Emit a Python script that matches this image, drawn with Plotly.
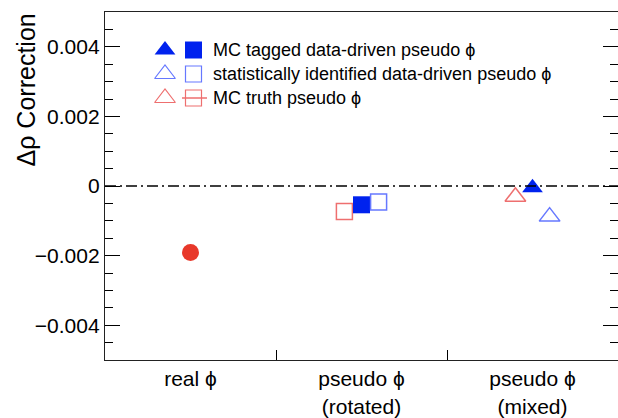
import plotly.graph_objects as go

# ---------------- data ----------------
categories = ["real ϕ", "pseudo ϕ<br>(rotated)", "pseudo ϕ<br>(mixed)"]
cat_pos = [0.5, 1.5, 2.5]

real_phi = [-0.00191]                    # red filled circle, real phi
mc_tagged_square = [-0.00054]            # rotated
stat_square = [-0.00046]                 # rotated
truth_square = [-0.00073]                # rotated
mc_tagged_tri = [-0.00005]               # mixed
stat_tri = [-0.00088]                    # mixed
truth_tri = [-0.00031]                   # mixed

legend_labels = ["MC tagged data-driven pseudo ϕ",
                 "statistically identified data-driven pseudo ϕ",
                 "MC truth pseudo ϕ"]

y_ticks = [-0.004, -0.002, 0, 0.002, 0.004]
y_ticktext = ["−0.004", "−0.002", "0", "0.002", "0.004"]

# ---------------- style ----------------
RED_F = "#e8382a"
RED_O = "#ee6f6f"
BLUE_F = "#0022ee"
BLUE_O = "#6678ff"
FONT = "Liberation Sans, Arial, Helvetica, sans-serif"
OFF = 0.1

W, H = 618, 418
ML, MR, MT, MB = 105, 0, 12, 58
PW, PH = W - ML - MR, H - MT - MB

def px_x(p):
    return (p - ML) / PW

def px_y(p):
    return (H - MB - p) / PH

fig = go.Figure()

def add(x, y, symbol, color, filled, size):
    fig.add_trace(go.Scatter(
        x=x, y=y, mode="markers", showlegend=False, hoverinfo="skip",
        marker=dict(symbol=symbol if filled else symbol + "-open", size=size,
                    color=color, line=dict(color=color, width=1.5 if not filled else 0))))

add([cat_pos[0]], real_phi, "circle", RED_F, True, 17)
add([cat_pos[1] - OFF], truth_square, "square", RED_O, False, 16)
add([cat_pos[1]], mc_tagged_square, "square", BLUE_F, True, 17)
add([cat_pos[1] + OFF], stat_square, "square", BLUE_O, False, 16)
add([cat_pos[2] - OFF], truth_tri, "triangle-up", RED_O, False, 18)
add([cat_pos[2]], mc_tagged_tri, "triangle-up", BLUE_F, True, 18)
add([cat_pos[2] + OFF], stat_tri, "triangle-up", BLUE_O, False, 18)

# ---------------- legend (drawn on overlay axis) ----------------
leg_tri_x = px_x(165)
leg_sq_x = px_x(193.5)
leg_txt_x = px_x(211)
leg_rows = [px_y(50), px_y(74), px_y(98)]
leg_styles = [(BLUE_F, True), (BLUE_O, False), (RED_O, False)]
for (col, filled), yy, lab in zip(leg_styles, leg_rows, legend_labels):
    if lab.startswith("MC truth"):
        fig.add_trace(go.Scatter(x=[px_x(182), px_x(207)], y=[yy, yy], mode="lines",
                                 line=dict(color=col, width=1.5), xaxis="x2", yaxis="y2",
                                 showlegend=False, hoverinfo="skip"))
    fig.add_trace(go.Scatter(
        x=[leg_tri_x], y=[yy], mode="markers", xaxis="x2", yaxis="y2",
        showlegend=False, hoverinfo="skip",
        marker=dict(symbol="triangle-up" if filled else "triangle-up-open", size=18,
                    color=col, line=dict(color=col, width=0 if filled else 1.2))))
    fig.add_trace(go.Scatter(
        x=[leg_sq_x], y=[yy], mode="markers", xaxis="x2", yaxis="y2",
        showlegend=False, hoverinfo="skip",
        marker=dict(symbol="square" if filled else "square-open", size=17 if filled else 16,
                    color=col, line=dict(color=col, width=0 if filled else 1.2))))
    fig.add_annotation(x=leg_txt_x, y=yy, xref="x2", yref="y2", text=lab,
                       showarrow=False, xanchor="left", yanchor="middle",
                       font=dict(family=FONT, size=18, color="black"))

# zero line
fig.add_shape(type="line", xref="paper", yref="y", x0=0, x1=1, y0=0, y1=0,
              line=dict(color="black", width=1.5, dash="11px,4px,2px,4px"))

# y title
fig.add_annotation(x=px_x(25), y=1.0, xref="paper", yref="paper",
                   text="Δρ Correction", textangle=-90, showarrow=False,
                   xanchor="center", yanchor="top",
                   font=dict(family=FONT, size=25, color="black"))

fig.update_layout(
    width=W, height=H, margin=dict(l=ML, r=MR, t=MT, b=MB, autoexpand=False),
    paper_bgcolor="white", plot_bgcolor="white",
    font=dict(family=FONT, color="black"),
    xaxis=dict(range=[0, 3], tickvals=cat_pos, ticktext=categories, ticks="",
               showline=True, linecolor="#222", linewidth=1.3, mirror=True,
               showgrid=False, zeroline=False, tickfont=dict(size=21), automargin=False,
               minor=dict(tickvals=[1, 2], ticks="inside", ticklen=10,
                          tickcolor="black", tickwidth=1, showgrid=False)),
    yaxis=dict(range=[-0.005, 0.005], tickvals=y_ticks, ticktext=y_ticktext,
               ticks="inside", ticklen=15, tickcolor="black", tickwidth=1,
               showline=True, linecolor="#222", linewidth=1.3, automargin=False,
               showgrid=False, zeroline=False, tickfont=dict(size=21),
               minor=dict(dtick=0.0005, tick0=0, ticks="inside", ticklen=8,
                          tickcolor="black", tickwidth=1, showgrid=False)),
    yaxis3=dict(range=[-0.005, 0.005], overlaying="y", side="right", anchor="x",
                tickvals=y_ticks, ticks="inside", ticklen=15, tickcolor="black",
                showticklabels=False, showline=False, showgrid=False, zeroline=False,
                automargin=False,
                minor=dict(dtick=0.0005, tick0=0, ticks="inside", ticklen=8,
                           tickcolor="black", tickwidth=1, showgrid=False)),
    xaxis2=dict(range=[0, 1], overlaying="x", visible=False),
    yaxis2=dict(range=[0, 1], overlaying="y", visible=False),
)
# dummy trace to activate right-side tick axis
fig.add_trace(go.Scatter(x=[None], y=[None], yaxis="y3", showlegend=False, hoverinfo="skip"))

fig.write_html("out.html")
